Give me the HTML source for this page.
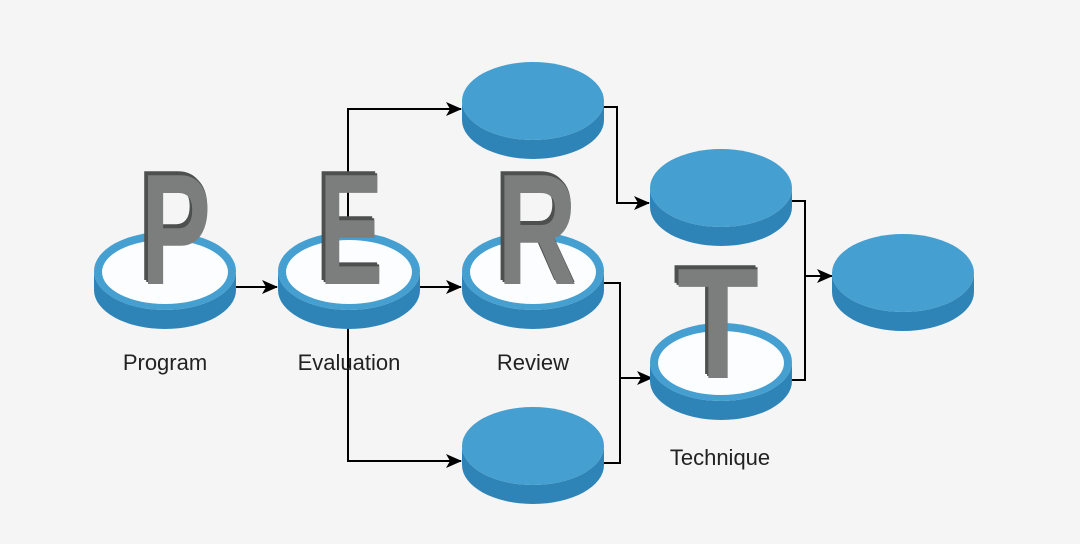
<!DOCTYPE html>
<html><head><meta charset="utf-8"><style>
html,body{margin:0;padding:0;background:#f5f5f5;}
svg{display:block}
text{font-family:"Liberation Sans","DejaVu Sans",sans-serif}
</style></head><body>
<svg width="1080" height="544" viewBox="0 0 1080 544" xmlns="http://www.w3.org/2000/svg">
<defs>
<marker id="a" markerWidth="16" markerHeight="14" refX="15" refY="7" orient="auto" markerUnits="userSpaceOnUse">
<path d="M0,0 L16,7 L0,14 L4,7 Z" fill="#000"/></marker>
<g id="disc">
<path d="M-71,0 A71,39 0 0 0 71,0 L71,19 A71,39 0 0 1 -71,19 Z" fill="#2f84b7"/>
<ellipse cx="0" cy="0" rx="71" ry="39" fill="#459fd0"/>
</g>
<g id="ring">
<use href="#disc"/>
<ellipse cx="0" cy="1" rx="63" ry="32" fill="#fbfdfe"/>
</g>
<g id="L">
</g>
</defs>
<rect width="1080" height="544" fill="#f5f5f5"/>
<g fill="none" stroke="#000" stroke-width="2">
<line x1="236" y1="287" x2="277" y2="287" marker-end="url(#a)"/>
<line x1="420" y1="287" x2="461" y2="287" marker-end="url(#a)"/>
<polyline points="348,287 348,109 461,109" marker-end="url(#a)"/>
<polyline points="348,287 348,461 461,461" marker-end="url(#a)"/>
<polyline points="604,107 617,107 617,203 649,203" marker-end="url(#a)"/>
<polyline points="604,283 620,283 620,463 604,463"/>
<line x1="620" y1="378" x2="652" y2="378" marker-end="url(#a)"/>
<polyline points="792,201 805,201 805,380 792,380"/>
<line x1="805" y1="276" x2="832" y2="276" marker-end="url(#a)"/>
</g>
<use href="#ring" x="165" y="271"/>
<use href="#ring" x="349" y="271"/>
<use href="#ring" x="533" y="271"/>
<use href="#disc" x="533" y="101"/>
<use href="#disc" x="721" y="188"/>
<use href="#disc" x="721" y="362"/>
<ellipse cx="721" cy="363" rx="63" ry="32" fill="#fbfdfe"/>
<use href="#disc" x="533" y="446"/>
<use href="#disc" x="903" y="273"/>
<g font-size="158" font-weight="bold" stroke-width="0">
<text x="137" y="280" fill="#4d504e" textLength="72" lengthAdjust="spacingAndGlyphs">P</text>
<text x="139" y="282" fill="#4d504e" textLength="72" lengthAdjust="spacingAndGlyphs">P</text>
<text x="141" y="284" fill="#7b7e7c" textLength="70" lengthAdjust="spacingAndGlyphs">P</text>
<text x="315" y="280" fill="#4d504e" textLength="66" lengthAdjust="spacingAndGlyphs">E</text>
<text x="317" y="282" fill="#4d504e" textLength="66" lengthAdjust="spacingAndGlyphs">E</text>
<text x="319" y="284" fill="#7b7e7c" textLength="64" lengthAdjust="spacingAndGlyphs">E</text>
<text x="493" y="280" fill="#4d504e" textLength="82" lengthAdjust="spacingAndGlyphs">R</text>
<text x="495" y="282" fill="#4d504e" textLength="82" lengthAdjust="spacingAndGlyphs">R</text>
<text x="497" y="284" fill="#7b7e7c" textLength="80" lengthAdjust="spacingAndGlyphs">R</text>
<text x="673" y="374" fill="#4d504e" textLength="84" lengthAdjust="spacingAndGlyphs">T</text>
<text x="675" y="376" fill="#4d504e" textLength="84" lengthAdjust="spacingAndGlyphs">T</text>
<text x="677" y="378" fill="#7b7e7c" textLength="82" lengthAdjust="spacingAndGlyphs">T</text>
</g>
<g font-size="22" fill="#222" text-anchor="middle">
<text x="165" y="370">Program</text>
<text x="349" y="370">Evaluation</text>
<text x="533" y="370">Review</text>
<text x="720" y="465">Technique</text>
</g>
</svg>
</body></html>
